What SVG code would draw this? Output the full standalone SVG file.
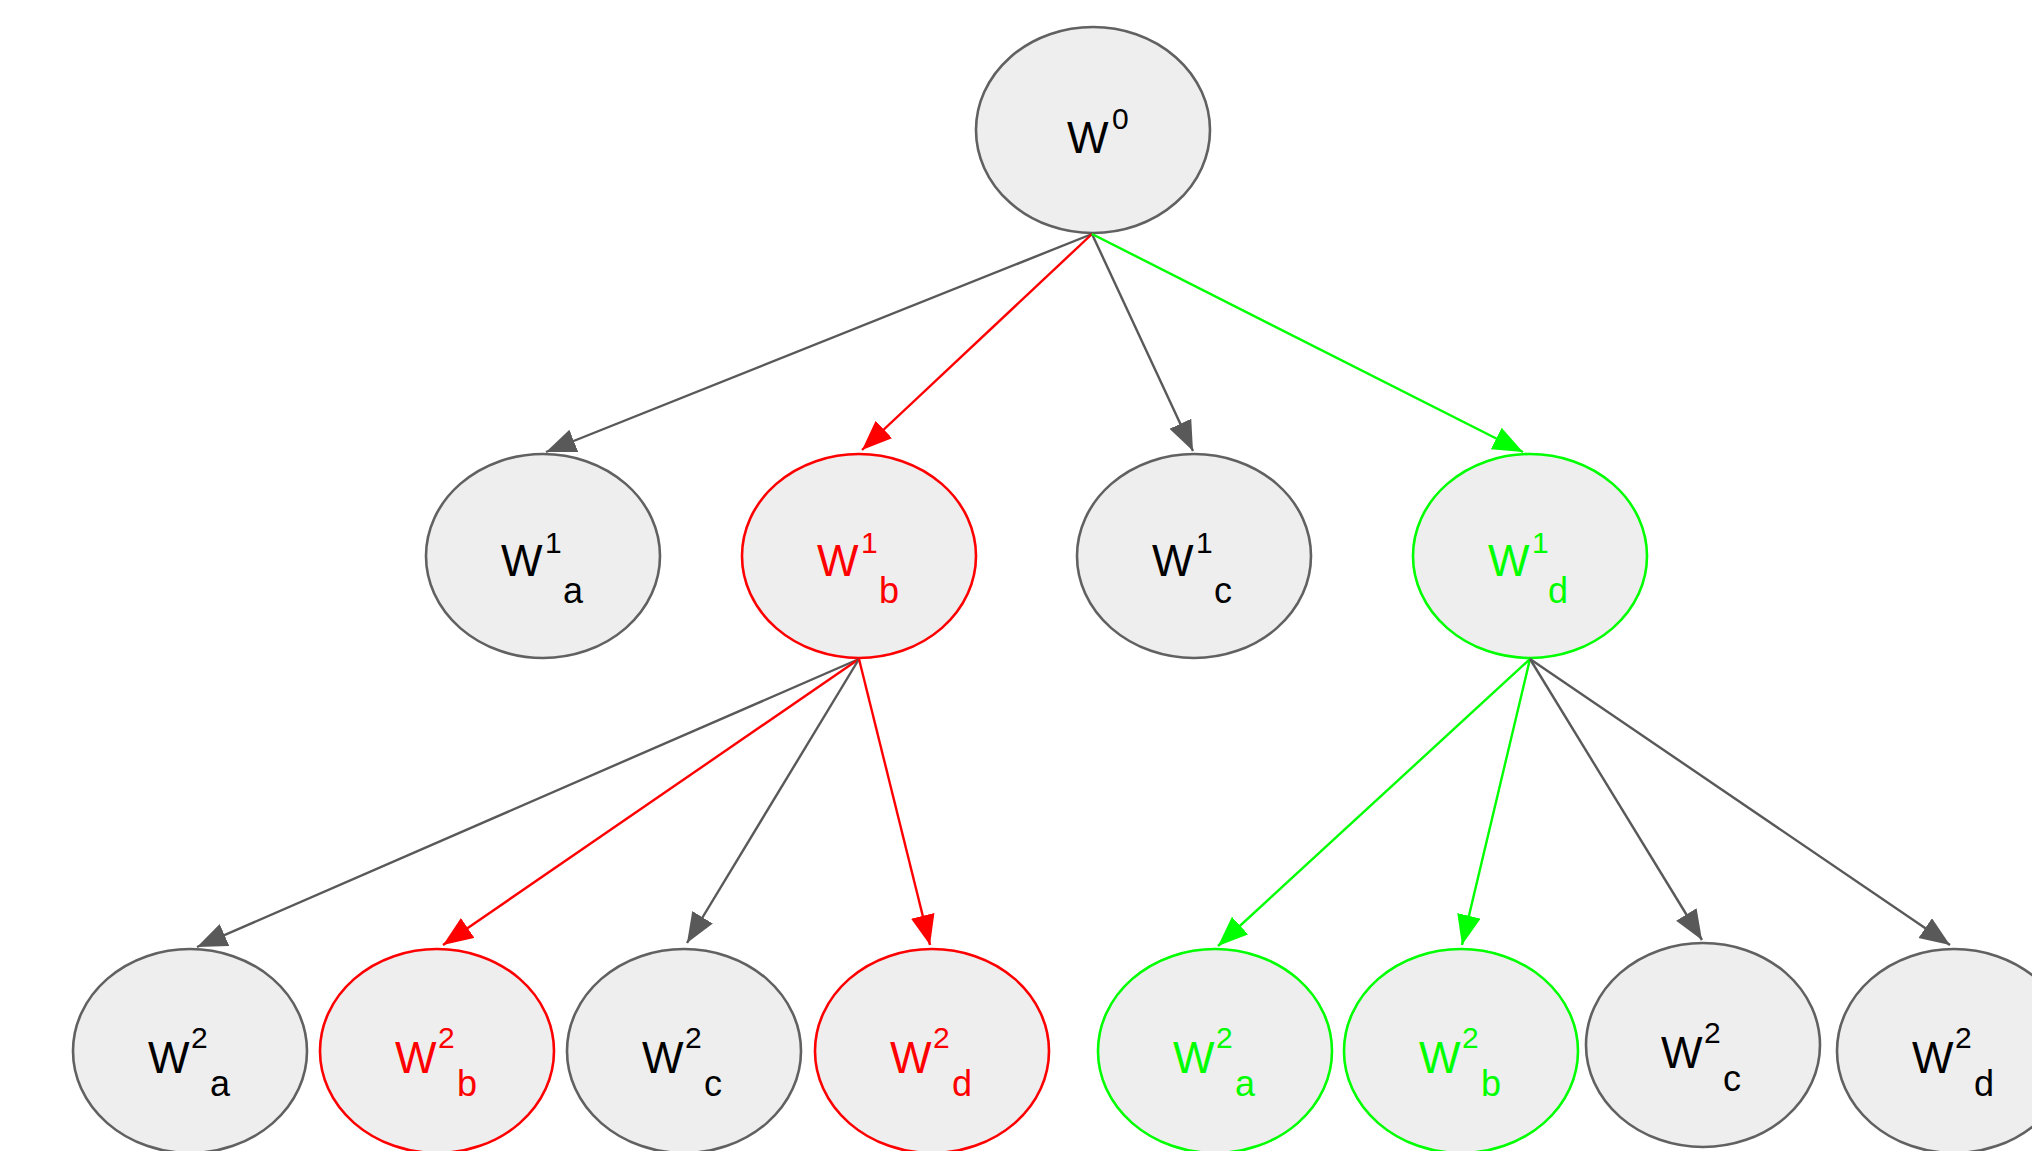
<svg xmlns="http://www.w3.org/2000/svg" width="2032" height="1151" viewBox="0 0 2032 1151">
<defs>
<style>
.n{fill:#eeeeee;stroke-width:2.6}
.g{stroke:#616161}
.r{stroke:#ff0000}
.gr{stroke:#00ff00}
text{font-family:"Liberation Sans",Arial,sans-serif}
.m{font-size:44px}
.sp{font-size:30px}
.sb{font-size:36px}
.tk{fill:#000000}
.tr{fill:#ff0000}
.tg{fill:#00ff00}
.e{fill:none;stroke-width:2.4}
.eg{stroke:#595959}
.er{stroke:#ff0000}
.egr{stroke:#00ff00}
</style>
<marker id="ag" markerUnits="userSpaceOnUse" markerWidth="32" markerHeight="26" refX="30" refY="12" orient="auto"><path d="M0,0 L30,12 L0,24 z" fill="#595959"/></marker>
<marker id="ar" markerUnits="userSpaceOnUse" markerWidth="32" markerHeight="26" refX="30" refY="12" orient="auto"><path d="M0,0 L30,12 L0,24 z" fill="#ff0000"/></marker>
<marker id="agr" markerUnits="userSpaceOnUse" markerWidth="32" markerHeight="26" refX="30" refY="12" orient="auto"><path d="M0,0 L30,12 L0,24 z" fill="#00ff00"/></marker>
</defs>
<rect width="2032" height="1151" fill="#ffffff"/>

<g id="w0">
<ellipse class="n g" cx="1093" cy="130" rx="117" ry="103"/>
<text class="tk"><tspan class="m" x="1067" y="153">W</tspan><tspan class="sp" x="1112" y="129">0</tspan></text>
</g>

<g id="w1a">
<ellipse class="n g" cx="543" cy="556" rx="117" ry="102"/>
<text class="tk"><tspan class="m" x="501" y="576">W</tspan><tspan class="sp" x="545" y="553">1</tspan><tspan class="sb" x="563" y="603">a</tspan></text>
</g>
<g id="w1b">
<ellipse class="n r" cx="859" cy="556" rx="117" ry="102"/>
<text class="tr"><tspan class="m" x="817" y="576">W</tspan><tspan class="sp" x="861" y="553">1</tspan><tspan class="sb" x="879" y="603">b</tspan></text>
</g>
<g id="w1c">
<ellipse class="n g" cx="1194" cy="556" rx="117" ry="102"/>
<text class="tk"><tspan class="m" x="1152" y="576">W</tspan><tspan class="sp" x="1196" y="553">1</tspan><tspan class="sb" x="1214" y="603">c</tspan></text>
</g>
<g id="w1d">
<ellipse class="n gr" cx="1530" cy="556" rx="117" ry="102"/>
<text class="tg"><tspan class="m" x="1488" y="576">W</tspan><tspan class="sp" x="1532" y="553">1</tspan><tspan class="sb" x="1548" y="603">d</tspan></text>
</g>

<g id="w2a-1">
<ellipse class="n g" cx="190" cy="1051" rx="117" ry="102"/>
<text class="tk"><tspan class="m" x="148" y="1073">W</tspan><tspan class="sp" x="191" y="1048">2</tspan><tspan class="sb" x="210" y="1096">a</tspan></text>
</g>
<g id="w2b-1">
<ellipse class="n r" cx="437" cy="1051" rx="117" ry="102"/>
<text class="tr"><tspan class="m" x="395" y="1073">W</tspan><tspan class="sp" x="438" y="1048">2</tspan><tspan class="sb" x="457" y="1096">b</tspan></text>
</g>
<g id="w2c-1">
<ellipse class="n g" cx="684" cy="1051" rx="117" ry="102"/>
<text class="tk"><tspan class="m" x="642" y="1073">W</tspan><tspan class="sp" x="685" y="1048">2</tspan><tspan class="sb" x="704" y="1096">c</tspan></text>
</g>
<g id="w2d-1">
<ellipse class="n r" cx="932" cy="1051" rx="117" ry="102"/>
<text class="tr"><tspan class="m" x="890" y="1073">W</tspan><tspan class="sp" x="933" y="1048">2</tspan><tspan class="sb" x="952" y="1096">d</tspan></text>
</g>
<g id="w2a-2">
<ellipse class="n gr" cx="1215" cy="1051" rx="117" ry="102"/>
<text class="tg"><tspan class="m" x="1173" y="1073">W</tspan><tspan class="sp" x="1216" y="1048">2</tspan><tspan class="sb" x="1235" y="1096">a</tspan></text>
</g>
<g id="w2b-2">
<ellipse class="n gr" cx="1461" cy="1051" rx="117" ry="102"/>
<text class="tg"><tspan class="m" x="1419" y="1073">W</tspan><tspan class="sp" x="1462" y="1048">2</tspan><tspan class="sb" x="1481" y="1096">b</tspan></text>
</g>
<g id="w2c-2">
<ellipse class="n g" cx="1703" cy="1045" rx="117" ry="102"/>
<text class="tk"><tspan class="m" x="1661" y="1068">W</tspan><tspan class="sp" x="1704" y="1043">2</tspan><tspan class="sb" x="1723" y="1091">c</tspan></text>
</g>
<g id="w2d-2">
<ellipse class="n g" cx="1954" cy="1051" rx="117" ry="102"/>
<text class="tk"><tspan class="m" x="1912" y="1073">W</tspan><tspan class="sp" x="1955" y="1048">2</tspan><tspan class="sb" x="1974" y="1096">d</tspan></text>
</g>

<g id="connectors">
<line class="e eg" x1="1092" y1="234" x2="546" y2="452" marker-end="url(#ag)"/>
<line class="e er" x1="1092" y1="234" x2="862" y2="450" marker-end="url(#ar)"/>
<line class="e eg" x1="1092" y1="234" x2="1193" y2="451" marker-end="url(#ag)"/>
<line class="e egr" x1="1092" y1="234" x2="1523" y2="452" marker-end="url(#agr)"/>
<line class="e eg" x1="859" y1="659" x2="197" y2="947" marker-end="url(#ag)"/>
<line class="e er" x1="859" y1="659" x2="443" y2="945" marker-end="url(#ar)"/>
<line class="e eg" x1="859" y1="659" x2="687" y2="943" marker-end="url(#ag)"/>
<line class="e er" x1="859" y1="659" x2="930" y2="945" marker-end="url(#ar)"/>
<line class="e egr" x1="1530" y1="659" x2="1218" y2="946" marker-end="url(#agr)"/>
<line class="e egr" x1="1530" y1="659" x2="1462" y2="945" marker-end="url(#agr)"/>
<line class="e eg" x1="1530" y1="659" x2="1702" y2="940" marker-end="url(#ag)"/>
<line class="e eg" x1="1530" y1="659" x2="1950" y2="945" marker-end="url(#ag)"/>
</g>
</svg>
